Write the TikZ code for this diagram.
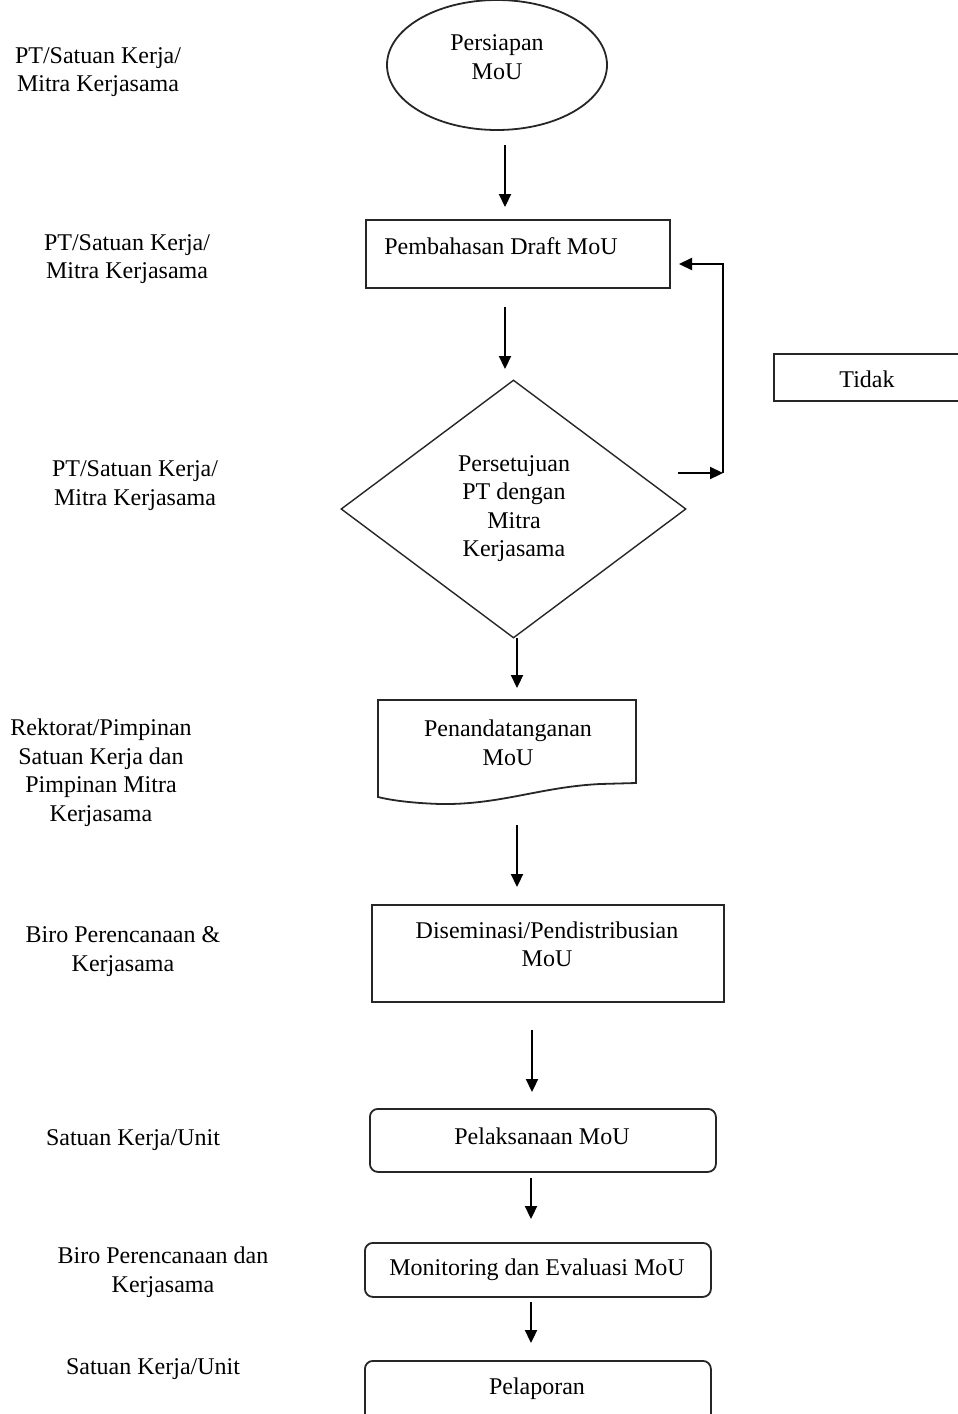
\documentclass[tikz,border=0pt]{standalone}
\usepackage{fontspec}
\setmainfont{Liberation Serif}
\usetikzlibrary{shapes.geometric,arrows.meta}
\begin{document}
\begin{tikzpicture}[x=1pt,y=-1pt,
  txt/.style={inner sep=0pt,align=center,font=\fontsize{24}{28.5}\selectfont},
  shp/.style={draw=black!85,line width=1.8pt,inner sep=0pt},
  box/.style={shp,rectangle,anchor=north west},
  rbox/.style={box,rounded corners=8pt},
  arr/.style={line width=2.2pt,-{Triangle[length=13pt,width=12pt]}}]
\useasboundingbox (0,0) rectangle (958,1414);
\clip (0,0) rectangle (958,1414);
% shapes
\node[shp,ellipse,minimum width=220pt,minimum height=130pt] (e) at (497,65) {};
\node[box,minimum width=304pt,minimum height=68pt] (b1) at (365,219) {};
\node[shp,line width=1.4pt,diamond,minimum width=345pt,minimum height=258pt] (d) at (513.5,509) {};
\node[box,minimum width=200pt,minimum height=47pt] (tk) at (773,353) {};
\draw[shp] (378,700) -- (636,700) -- (636,783) -- (600,784)
  .. controls (540,787) and (500,805) .. (440,804)
  .. controls (410,803) and (390,800) .. (378,797) -- cycle;
\coordinate (doc) at (507,700);
\node[box,minimum width=352pt,minimum height=97pt] (b2) at (371,904) {};
\node[rbox,minimum width=346pt,minimum height=63pt] (b3) at (369,1108) {};
\node[rbox,minimum width=346pt,minimum height=54pt] (b4) at (364,1242) {};
\node[rbox,minimum width=346pt,minimum height=70pt] (b5) at (364,1360) {};
% texts
\node[txt] (te) at (497,57) {Persiapan\\MoU};
\node[txt] (tb1) at (501,246) {Pembahasan Draft MoU};
\node[txt] (td) at (514,508.5) {Persetujuan\\PT dengan\\Mitra\\Kerjasama};
\node[txt] (ttk) at (867,379) {Tidak};
\node[txt] (tdoc) at (508,743) {Penandatanganan\\MoU};
\node[txt] (tb2) at (547,944.5) {Diseminasi/Pendistribusian\\MoU};
\node[txt] (tb3) at (542,1136.5) {Pelaksanaan MoU};
\node[txt] (tb4) at (537,1269.5) {Monitoring dan Evaluasi MoU};
\node[txt] (tb5) at (537,1388.5) {Pelaporan};
% left labels
\node[txt] (l1) at (98,72) {PT/Satuan Kerja/\\Mitra Kerjasama};
\node[txt] (l2) at (127,259) {PT/Satuan Kerja/\\Mitra Kerjasama};
\node[txt] (l3) at (135,485.5) {PT/Satuan Kerja/\\Mitra Kerjasama};
\node[txt] (l4) at (101,772.5) {Rektorat/Pimpinan\\Satuan Kerja dan\\Pimpinan Mitra\\Kerjasama};
\node[txt] (l5) at (123,951.5) {Biro Perencanaan \&\\Kerjasama};
\node[txt] (l6) at (133,1140.5) {Satuan Kerja/Unit};
\node[txt] (l7) at (163,1272) {Biro Perencanaan dan\\Kerjasama};
\node[txt] (l8) at (153,1369.5) {Satuan Kerja/Unit};
% arrow endpoints
\coordinate (a1s) at (505,145); \coordinate (a1e) at (505,207);
\coordinate (a2s) at (505,307); \coordinate (a2e) at (505,369);
\coordinate (a3s) at (517,638); \coordinate (a3e) at (517,688);
\coordinate (a4s) at (517,825); \coordinate (a4e) at (517,887);
\coordinate (a5s) at (532,1030); \coordinate (a5e) at (532,1092);
\coordinate (a6s) at (531,1178); \coordinate (a6e) at (531,1219);
\coordinate (a7s) at (531,1302); \coordinate (a7e) at (531,1343);
\coordinate (fs) at (678,473); \coordinate (fm) at (723,473);
\coordinate (ft) at (723,264); \coordinate (fe) at (679,264);
\draw[arr] (a1s) -- (a1e);
\draw[arr] (a2s) -- (a2e);
\draw[arr] (a3s) -- (a3e);
\draw[arr] (a4s) -- (a4e);
\draw[arr] (a5s) -- (a5e);
\draw[arr] (a6s) -- (a6e);
\draw[arr] (a7s) -- (a7e);
\draw[arr] (fs) -- (fm);
\draw[arr] (fm) -- (ft) -- (fe);
\end{tikzpicture}
\end{document}
